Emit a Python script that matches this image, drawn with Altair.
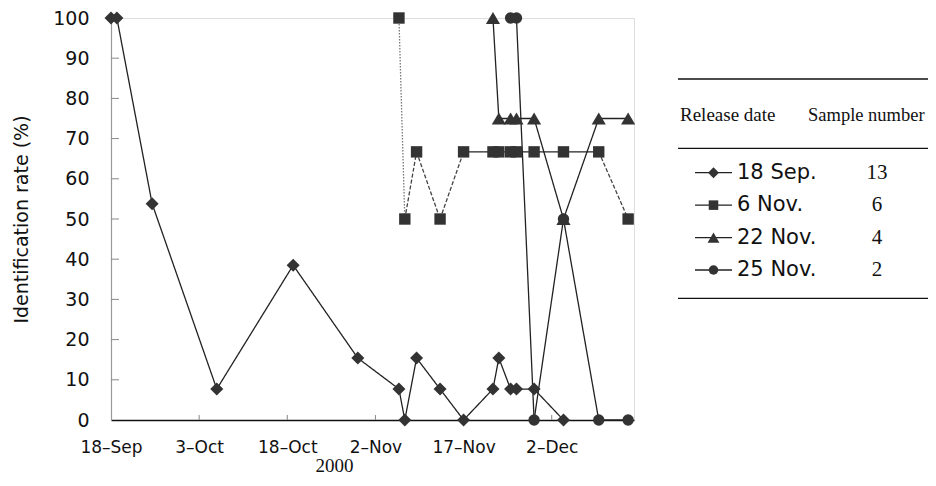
import altair as alt
import pandas as pd

# ---------------- data ----------------
series_names = ["18 Sep.", "6 Nov.", "22 Nov.", "25 Nov."]
sample_numbers = [13, 6, 4, 2]

sep18_dates = ["2000-09-18", "2000-09-19", "2000-09-25", "2000-10-06", "2000-10-19", "2000-10-30",
               "2000-11-06", "2000-11-07", "2000-11-09", "2000-11-13", "2000-11-17", "2000-11-22",
               "2000-11-23", "2000-11-25", "2000-11-26", "2000-11-29", "2000-12-04"]
sep18_rates = [100, 100, 53.8, 7.7, 38.5, 15.4, 7.7, 0, 15.4, 7.7, 0, 7.7, 15.4, 7.7, 7.7, 7.7, 0]

nov6_dates = ["2000-11-06", "2000-11-07", "2000-11-09", "2000-11-13", "2000-11-17", "2000-11-22",
              "2000-11-23", "2000-11-25", "2000-11-26", "2000-11-29", "2000-12-04", "2000-12-10",
              "2000-12-15"]
nov6_rates = [100, 50, 66.7, 50, 66.7, 66.7, 66.7, 66.7, 66.7, 66.7, 66.7, 66.7, 50]
nov6_segment_styles = ["dot", "dash", "dash", "dash", "solid", "solid", "solid", "solid",
                       "solid", "solid", "solid", "dash"]

nov22_dates = ["2000-11-22", "2000-11-23", "2000-11-25", "2000-11-26", "2000-11-29", "2000-12-04",
               "2000-12-10", "2000-12-15"]
nov22_rates = [100, 75, 75, 75, 75, 50, 75, 75]

nov25_dates = ["2000-11-25", "2000-11-26", "2000-11-29", "2000-12-04", "2000-12-10", "2000-12-15"]
nov25_rates = [100, 100, 0, 50, 0, 0]

x_tick_dates = ["2000-09-18", "2000-10-03", "2000-10-18", "2000-11-02", "2000-11-17", "2000-12-02"]
x_domain_dates = ["2000-09-18", "2000-12-16"]
y_tick_values = [0, 10, 20, 30, 40, 50, 60, 70, 80, 90, 100]

# ---------------- build tables ----------------
all_dates = [sep18_dates, nov6_dates, nov22_dates, nov25_dates]
all_rates = [sep18_rates, nov6_rates, nov22_rates, nov25_rates]
all_styles = [["solid"] * (len(sep18_dates) - 1), nov6_segment_styles,
              ["solid"] * (len(nov22_dates) - 1), ["solid"] * (len(nov25_dates) - 1)]

seg_rows = []
for name, ds, rs, st in zip(series_names, all_dates, all_rates, all_styles):
    for i in range(len(ds) - 1):
        for j in (i, i + 1):
            seg_rows.append({"series": name, "seg": f"{name}-{i}", "style": st[i],
                             "date": ds[j], "rate": rs[j]})
seg_df = pd.DataFrame(seg_rows)


def to_dt(s):
    y, m, d = (int(v) for v in s.split("-"))
    return alt.DateTime(year=y, month=m, date=d, utc=True)


x_scale = alt.Scale(type="utc", domain=[to_dt(s) for s in x_domain_dates], nice=False)
y_scale = alt.Scale(domain=[0, 100], nice=False, zero=True)

x_axis = alt.Axis(values=[to_dt(s) for s in x_tick_dates],
                  labelExpr="utcFormat(datum.value, '%-d') + '\u2013' + utcFormat(datum.value, '%b')",
                  ticks=False, labelPadding=19, labelFont="DejaVu Sans", labelFontSize=17,
                  labelColor="#111", labelFlush=False, labelOverlap=False,
                  domainColor="#111", domainWidth=1.5, grid=False,
                  title="2000", titleFont="Liberation Serif", titleFontSize=19,
                  titleFontWeight="normal", titleColor="#111", titleX=223, titleY=51,
                  titleAlign="center", titleBaseline="alphabetic")
y_axis = alt.Axis(values=y_tick_values, ticks=False, labelPadding=22, labelFont="DejaVu Sans",
                  labelFontSize=19, labelColor="#111", domainColor="#999", domainWidth=1.2,
                  grid=False, title="Identification rate (%)", titleFont="DejaVu Sans",
                  titleFontSize=19, titleFontWeight="normal", titleColor="#111",
                  titleX=-90, titleY=201, titleAngle=270, titleAlign="center",
                  titleBaseline="middle")

X = alt.X("date:T", scale=x_scale, axis=x_axis, title="2000")
Y = alt.Y("rate:Q", scale=y_scale, axis=y_axis, title="Identification rate (%)")

lines = alt.Chart(seg_df).mark_line(strokeWidth=1.3).encode(
    x=X, y=Y, detail="seg:N",
    strokeDash=alt.StrokeDash("style:N", scale=alt.Scale(domain=["solid", "dash", "dot"],
                                                        range=[[1, 0], [4, 2], [1.5, 1.5]]),
                              legend=None),
    color=alt.Color("style:N", scale=alt.Scale(domain=["solid", "dash", "dot"],
                                               range=["#222222", "#444444", "#777777"]),
                    legend=None),
)

marker_specs = [("diamond", 170), ("square", 130), ("triangle-up", 200), ("circle", 130)]
point_layers = []
for name, ds, rs, (shp, sz) in zip(series_names, all_dates, all_rates, marker_specs):
    df = pd.DataFrame({"date": ds, "rate": rs})
    point_layers.append(
        alt.Chart(df).mark_point(filled=True, opacity=1, color="#333333", shape=shp, size=sz)
        .encode(x=X, y=Y)
    )

ytick_df = pd.DataFrame({"rate": y_tick_values[1:]})
yticks = alt.Chart(ytick_df).mark_rule(color="#888888", strokeWidth=1).encode(
    y=Y, x=alt.value(0), x2=alt.value(8))
xtick_df = pd.DataFrame({"date": x_tick_dates[1:]})
xticks = alt.Chart(xtick_df).mark_rule(color="#888888", strokeWidth=1).encode(
    x=X, y=alt.value(402), y2=alt.value(397))

main = alt.layer(yticks, xticks, lines, *point_layers)

# ---------------- legend table ----------------
leg_df = pd.DataFrame({"row": list(range(len(series_names))), "name": series_names,
                       "n": sample_numbers})
row_y = alt.Y("row:Q", scale=alt.Scale(domain=[0, 3], range=[154.7, 252]), axis=None)
one = pd.DataFrame({"k": [0]})

leg_layers = []
for yy in (61, 130.3, 280.3):
    leg_layers.append(alt.Chart(one).mark_rule(color="#111", strokeWidth=1.3).encode(
        x=alt.value(567), x2=alt.value(817), y=alt.value(yy)))
leg_layers.append(alt.Chart(one).mark_text(align="left", baseline="middle",
                                           font="Liberation Serif", fontSize=19, color="#111",
                                           text="Release date").encode(
    x=alt.value(569), y=alt.value(97)))
leg_layers.append(alt.Chart(one).mark_text(align="left", baseline="middle",
                                           font="Liberation Serif", fontSize=18.5, color="#111",
                                           text="Sample number").encode(
    x=alt.value(697), y=alt.value(97)))
leg_layers.append(alt.Chart(leg_df).mark_rule(color="#222", strokeWidth=1.3).encode(
    x=alt.value(584), x2=alt.value(621), y=row_y))
for i, (shp, sz) in enumerate(marker_specs):
    sub = leg_df.iloc[[i]]
    leg_layers.append(alt.Chart(sub).mark_point(filled=True, opacity=1, color="#333333",
                                                shape=shp, size=sz * 0.7).encode(
        x=alt.value(602.5), y=row_y))
leg_layers.append(alt.Chart(leg_df).mark_text(align="left", baseline="middle",
                                              font="DejaVu Sans", fontSize=21,
                                              color="#111").encode(
    x=alt.value(626), y=row_y, text="name:N"))
leg_layers.append(alt.Chart(leg_df).mark_text(align="center", baseline="middle",
                                              font="Liberation Serif", fontSize=21,
                                              color="#111").encode(
    x=alt.value(766), y=row_y, text="n:Q"))

legend = alt.layer(*leg_layers)

chart = alt.layer(main, legend).resolve_scale(y="independent").properties(
    width=523, height=402,
    autosize=alt.AutoSizeParams(type="none"),
    padding={"left": 103, "top": 10, "right": 294, "bottom": 55},
).configure_view(stroke=None).configure(background="white").configure_axisX(
    titleFont="Liberation Serif", titleFontSize=19, titleFontWeight="normal",
    titleColor="#111")

chart.save("out.html", embed_options={"renderer": "svg", "actions": False})
